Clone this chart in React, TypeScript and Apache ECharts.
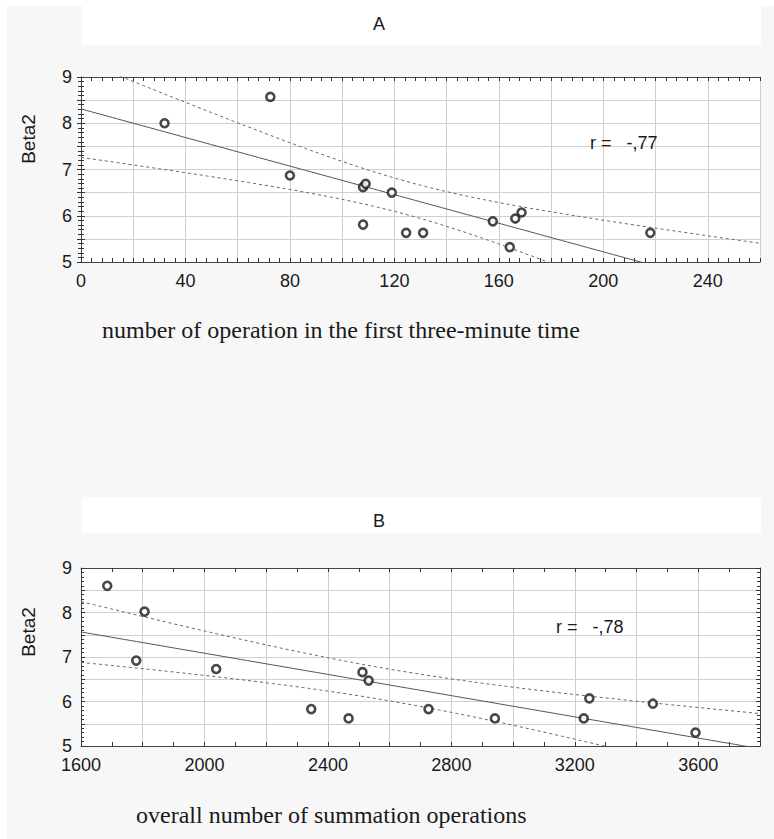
import React, { useEffect, useRef } from "react";
import * as echarts from "echarts";

// Panel A: number of operations in first three-minute time vs Beta2
const A_X = [32, 72.5, 80, 108, 109, 119, 108, 124.5, 131, 157.7, 166.3, 168.7, 164.2, 218];
const A_Y = [8.0, 8.57, 6.87, 6.62, 6.69, 6.5, 5.81, 5.63, 5.63, 5.88, 5.94, 6.07, 5.32, 5.63];
// Panel B: overall number of summation operations vs Beta2
const B_X = [1685, 1779, 1806, 2038, 2346, 2467, 2512, 2532, 2726, 2941, 3229, 3247, 3453, 3591];
const B_Y = [8.6, 6.92, 8.02, 6.73, 5.83, 5.62, 6.66, 6.47, 5.83, 5.62, 5.62, 6.07, 5.95, 5.3];

const TITLES = ["A", "B"];
const R_LABELS = ["r =   -,77", "r =   -,78"];
const X_TITLES = [
  "number of operation in the first three-minute time",
  "overall number of summation operations",
];
const Y_TITLE = "Beta2";

const A_RANGE = [0, 260];
const B_RANGE = [1600, 3800];
const Y_RANGE = [5, 9];
const T_95_DF12 = 2.179; // Student t, 95%, n-2 = 12

function regression(xs: number[], ys: number[], lo: number, hi: number, steps: number) {
  const n = xs.length;
  const mx = xs.reduce((s, v) => s + v, 0) / n;
  const my = ys.reduce((s, v) => s + v, 0) / n;
  let sxx = 0, sxy = 0, syy = 0;
  for (let i = 0; i < n; i++) {
    sxx += (xs[i] - mx) ** 2;
    sxy += (xs[i] - mx) * (ys[i] - my);
    syy += (ys[i] - my) ** 2;
  }
  const b = sxy / sxx;
  const a = my - b * mx;
  const s = Math.sqrt((syy - (sxy * sxy) / sxx) / (n - 2));
  const line: number[][] = [];
  const upper: number[][] = [];
  const lower: number[][] = [];
  for (let k = 0; k <= steps; k++) {
    const x = lo + ((hi - lo) * k) / steps;
    const yhat = a + b * x;
    const se = s * Math.sqrt(1 / n + (x - mx) ** 2 / sxx);
    line.push([x, yhat]);
    upper.push([x, yhat + T_95_DF12 * se]);
    lower.push([x, yhat - T_95_DF12 * se]);
  }
  return { line, upper, lower };
}

export default function App() {
  const ref = useRef<HTMLDivElement>(null);
  useEffect(() => {
    if (!ref.current) return;
    const chart = echarts.init(ref.current, null, { renderer: "svg" });
    const fa = regression(A_X, A_Y, A_RANGE[0], A_RANGE[1], 130);
    const fb = regression(B_X, B_Y, B_RANGE[0], B_RANGE[1], 110);

    const tickFont = { fontFamily: "Liberation Sans, Arial, sans-serif", fontSize: 18, color: "#1a1a1a" };
    const lineCol = "#444";
    const grids = [
      { left: 81, top: 77, width: 679, height: 185 },
      { left: 81, top: 568, width: 679, height: 178 },
    ];

    const mainX = (gi: number, range: number[], interval: number, labelStep: number, minorSplit: number) => ({
      type: "value",
      gridIndex: gi,
      min: range[0],
      max: range[1],
      interval,
      axisLine: { show: true, lineStyle: { color: lineCol, width: 1 } },
      axisTick: { show: true, inside: true, length: 4, lineStyle: { color: "#333" } },
      minorTick: { show: true, splitNumber: minorSplit, length: 4, lineStyle: { color: "#333" } },
      splitLine: { show: true, lineStyle: { color: "#cfcfcf", width: 1 } },
      axisLabel: {
        ...tickFont,
        margin: 11,
        lineHeight: 16,
        showMaxLabel: true,
        formatter: (v: number) => (Math.abs(v % labelStep) < 1e-6 ? String(v) : ""),
      },
    });
    const topX = (gi: number, range: number[], interval: number, minorSplit: number) => ({
      type: "value",
      gridIndex: gi,
      position: "top",
      min: range[0],
      max: range[1],
      interval,
      axisLine: { show: true, lineStyle: { color: lineCol, width: 1 } },
      axisTick: { show: true, inside: true, length: 4, lineStyle: { color: "#333" } },
      minorTick: { show: true, splitNumber: minorSplit, length: 4, lineStyle: { color: "#333" } },
      splitLine: { show: false },
      axisLabel: { show: false },
    });
    const leftY = (gi: number) => ({
      type: "value",
      gridIndex: gi,
      min: Y_RANGE[0],
      max: Y_RANGE[1],
      interval: 0.5,
      axisLine: { show: true, lineStyle: { color: lineCol, width: 1 } },
      axisTick: { show: true, inside: true, length: 4, lineStyle: { color: "#333" } },
      minorTick: { show: true, splitNumber: 5, length: 3, lineStyle: { color: "#333" } },
      splitLine: { show: true, lineStyle: { color: "#cfcfcf", width: 1 } },
      axisLabel: {
        ...tickFont,
        margin: 9,
        lineHeight: 14,
        formatter: (v: number) => (Math.abs(v - Math.round(v)) < 1e-6 ? String(Math.round(v)) : ""),
      },
    });
    const rightY = (gi: number) => ({
      type: "value",
      gridIndex: gi,
      position: "right",
      min: Y_RANGE[0],
      max: Y_RANGE[1],
      interval: 0.5,
      axisLine: { show: true, lineStyle: { color: lineCol, width: 1 } },
      axisTick: { show: true, inside: true, length: 4, lineStyle: { color: "#333" } },
      minorTick: { show: true, splitNumber: 5, length: 3, lineStyle: { color: "#333" } },
      splitLine: { show: false },
      axisLabel: { show: false },
    });

    const scatterStyle = {
      symbol: "circle",
      symbolSize: 8,
      itemStyle: { color: "#ffffff", borderColor: "#1a1a1a", borderWidth: 2.6 },
    };
    const fitLine = (xi: number, yi: number, data: number[][]) => ({
      type: "line",
      xAxisIndex: xi,
      yAxisIndex: yi,
      data,
      showSymbol: false,
      clip: true,
      lineStyle: { color: "#555", width: 1 },
      z: 3,
    });
    const bandLine = (xi: number, yi: number, data: number[][]) => ({
      type: "line",
      xAxisIndex: xi,
      yAxisIndex: yi,
      data,
      showSymbol: false,
      clip: true,
      lineStyle: { color: "#666", width: 1, type: [3, 3] },
      z: 3,
    });

    const sansText = "Liberation Sans, Arial, sans-serif";
    const serifText = "Liberation Serif, Times New Roman, serif";

    chart.setOption({
      animation: false,
      grid: grids.map((g) => ({ ...g, show: true, backgroundColor: "#ffffff", borderWidth: 0 })),
      xAxis: [
        mainX(0, A_RANGE, 20, 40, 5),
        topX(0, A_RANGE, 20, 5),
        mainX(1, B_RANGE, 200, 400, 2),
        topX(1, B_RANGE, 200, 2),
      ],
      yAxis: [leftY(0), rightY(0), leftY(1), rightY(1)],
      series: [
        bandLine(0, 0, fa.upper),
        bandLine(0, 0, fa.lower),
        fitLine(0, 0, fa.line),
        {
          type: "scatter",
          xAxisIndex: 0,
          yAxisIndex: 0,
          data: A_X.map((x, i) => [x, A_Y[i]]),
          ...scatterStyle,
          z: 5,
        },
        bandLine(2, 2, fb.upper),
        bandLine(2, 2, fb.lower),
        fitLine(2, 2, fb.line),
        {
          type: "scatter",
          xAxisIndex: 2,
          yAxisIndex: 2,
          data: B_X.map((x, i) => [x, B_Y[i]]),
          ...scatterStyle,
          z: 5,
        },
      ],
      graphic: [
        { type: "rect", z: -10, shape: { x: 7, y: 6, width: 767, height: 833 }, style: { fill: "#f7f7f7" } },
        { type: "rect", z: -5, shape: { x: 82, y: 0, width: 679, height: 45 }, style: { fill: "#ffffff" } },
        { type: "rect", z: -5, shape: { x: 82, y: 497, width: 679, height: 36 }, style: { fill: "#ffffff" } },
        {
          type: "text", z: 10, x: 379, y: 24,
          style: { text: TITLES[0], font: `18px ${sansText}`, fill: "#1a1a1a", textAlign: "center", textVerticalAlign: "middle" },
        },
        {
          type: "text", z: 10, x: 379, y: 521,
          style: { text: TITLES[1], font: `18px ${sansText}`, fill: "#1a1a1a", textAlign: "center", textVerticalAlign: "middle" },
        },
        {
          type: "text", z: 10, x: 28, y: 139, rotation: Math.PI / 2,
          style: { text: Y_TITLE, font: `19px ${sansText}`, fill: "#1a1a1a", textAlign: "center", textVerticalAlign: "middle" },
        },
        {
          type: "text", z: 10, x: 28, y: 632, rotation: Math.PI / 2,
          style: { text: Y_TITLE, font: `19px ${sansText}`, fill: "#1a1a1a", textAlign: "center", textVerticalAlign: "middle" },
        },
        {
          type: "text", z: 10, x: 590, y: 143,
          style: { text: R_LABELS[0], font: `18px ${sansText}`, fill: "#1a1a1a", textAlign: "left", textVerticalAlign: "middle" },
        },
        {
          type: "text", z: 10, x: 556, y: 627,
          style: { text: R_LABELS[1], font: `18px ${sansText}`, fill: "#1a1a1a", textAlign: "left", textVerticalAlign: "middle" },
        },
        {
          type: "text", z: 10, x: 102, y: 330,
          style: { text: X_TITLES[0], font: `24px ${serifText}`, fill: "#1a1a1a", textAlign: "left", textVerticalAlign: "middle" },
        },
        {
          type: "text", z: 10, x: 136, y: 815,
          style: { text: X_TITLES[1], font: `24px ${serifText}`, fill: "#1a1a1a", textAlign: "left", textVerticalAlign: "middle" },
        },
      ],
    });
    return () => chart.dispose();
  }, []);
  return (
    <div
      ref={ref}
      style={{ position: "absolute", left: 0, top: 0, width: 774, height: 839, background: "#ffffff" }}
    />
  );
}
